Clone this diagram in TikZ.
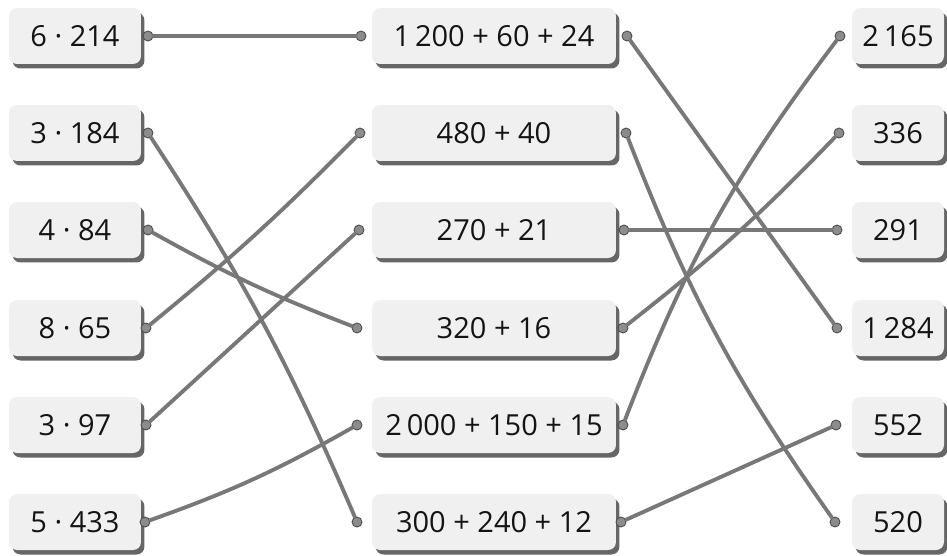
\documentclass[tikz,border=0pt]{standalone}
\usepackage{fontspec}
\setmainfont{Open Sans}
\usetikzlibrary{shadows}

\definecolor{cardfill}{HTML}{F0F0F0}
\definecolor{cardrim}{HTML}{666666}
\definecolor{wiregray}{HTML}{787878}
\definecolor{knobgray}{HTML}{8C8C8C}

\tikzset{
  card/.style={fill=cardfill, rounded corners=0.16cm, minimum height=1.12cm, inner sep=0pt,
    font=\fontsize{16.5}{20}\selectfont, text=black!92,
    general shadow={fill=cardrim, shadow xshift=0.07cm, shadow yshift=-0.09cm}},
  leftcard/.style={card, minimum width=2.64cm},
  midcard/.style={card, minimum width=4.88cm},
  rightcard/.style={card, minimum width=1.84cm},
  knob/.style={circle, fill=knobgray, draw=black!70, line width=0.5pt, minimum size=0.2cm, inner sep=0pt},
  wire/.style={draw=wiregray, line width=2.2pt, line cap=round},
}

\begin{document}
\begin{tikzpicture}[x=0.02cm,y=-0.02cm]
\useasboundingbox (0,0) rectangle (947,555);

% products
\node[leftcard] (a1) at (75,36)  {6 · 214};
\node[leftcard] (a2) at (75,133) {3 · 184};
\node[leftcard] (a3) at (75,230) {4 · 84};
\node[leftcard] (a4) at (75,328) {8 · 65};
\node[leftcard] (a5) at (75,425) {3 · 97};
\node[leftcard] (a6) at (75,522) {5 · 433};

% partial sums
\node[midcard] (b1) at (494,36)  {1\,200 + 60 + 24};
\node[midcard] (b2) at (494,133) {480 + 40};
\node[midcard] (b3) at (494,230) {270 + 21};
\node[midcard] (b4) at (494,328) {320 + 16};
\node[midcard] (b5) at (494,425) {2\,000 + 150 + 15};
\node[midcard] (b6) at (494,522) {300 + 240 + 12};

% results
\node[rightcard] (c1) at (898,36)  {2\,165};
\node[rightcard] (c2) at (898,133) {336};
\node[rightcard] (c3) at (898,230) {291};
\node[rightcard] (c4) at (898,328) {1\,284};
\node[rightcard] (c5) at (898,425) {552};
\node[rightcard] (c6) at (898,522) {520};

% connection points
\node[knob] (a1o) at (148,36)  {};
\node[knob] (a2o) at (148,133) {};
\node[knob] (a3o) at (148,230) {};
\node[knob] (a4o) at (146,328) {};
\node[knob] (a5o) at (146,425) {};
\node[knob] (a6o) at (145,522) {};

\node[knob] (b1i) at (361,36)  {};
\node[knob] (b2i) at (360,133) {};
\node[knob] (b3i) at (359,230) {};
\node[knob] (b4i) at (357,328) {};
\node[knob] (b5i) at (357,425) {};
\node[knob] (b6i) at (357,522) {};

\node[knob] (b1o) at (627,36)  {};
\node[knob] (b2o) at (626,133) {};
\node[knob] (b3o) at (624,230) {};
\node[knob] (b4o) at (623,328) {};
\node[knob] (b5o) at (623,425) {};
\node[knob] (b6o) at (621,522) {};

\node[knob] (c1i) at (840,36)  {};
\node[knob] (c2i) at (839,133) {};
\node[knob] (c3i) at (837,230) {};
\node[knob] (c4i) at (837,328) {};
\node[knob] (c5i) at (836,425) {};
\node[knob] (c6i) at (835,522) {};

% matching lines
\draw[wire] (a1o) -- (b1i);
\draw[wire] (a2o) to[bend left=5] (b6i);
\draw[wire] (a3o) to[bend right=4] (b4i);
\draw[wire] (a4o) to[bend right=3] (b2i);
\draw[wire] (a5o) -- (b3i);
\draw[wire] (a6o) to[bend right=5] (b5i);

\draw[wire] (b1o) -- (c4i);
\draw[wire] (b2o) to[bend right=7] (c6i);
\draw[wire] (b3o) -- (c3i);
\draw[wire] (b4o) to[bend right=4] (c2i);
\draw[wire] (b5o) to[bend left=8] (c1i);
\draw[wire] (b6o) -- (c5i);
\end{tikzpicture}
\end{document}
